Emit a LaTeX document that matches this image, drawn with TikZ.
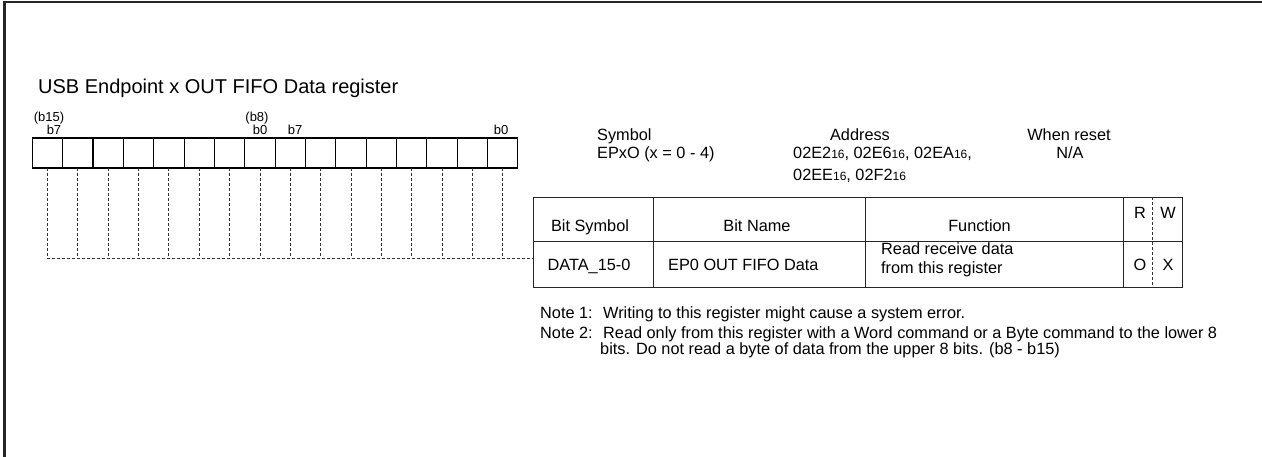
\documentclass[tikz,border=0pt]{standalone}
\usepackage{fontspec}
\setmainfont{Liberation Sans}
\newcommand{\hexsub}[1]{#1{\fontsize{12}{12}\selectfont 16}}
\tikzset{
  bitcell/.style={draw, line width=1.1pt, minimum width=30.35pt, minimum height=30pt, inner sep=0pt, outer sep=0pt},
  guide/.style={line width=0.8pt, dash pattern=on 3pt off 2pt, black!80},
  txt/.style={font=\fontsize{16.3}{19.5}\selectfont, inner sep=0pt},
  bitlbl/.style={font=\fontsize{13}{14}\selectfont, inner sep=0pt, anchor=base},
  rule/.style={line width=0.9pt, black!85},
}
\begin{document}
\begin{tikzpicture}[x=1pt, y=-1pt]
  \useasboundingbox (0,0) rectangle (1262,457);
  % frame
  \draw[line width=2pt, black!85] (3,2.5) -- (1262,2.5);
  \draw[line width=3pt, black!85] (4.5,1.5) -- (4.5,457);
  \node[txt, font=\fontsize{20}{24}\selectfont, anchor=base west] (title) at (38,94) {USB Endpoint x OUT FIFO Data register};
  % bit cells
  \foreach \i in {0,...,15}
    \node[bitcell] (c\i) at ({32.3+30.35*(\i+0.5)},153) {};
  \node[bitlbl] (lb15) at (49,122) {(b15)};
  \node[bitlbl] (lhi7) at (54,135) {b7};
  \node[bitlbl] (lb8) at (257,122) {(b8)};
  \node[bitlbl] (lhi0) at (260,135) {b0};
  \node[bitlbl] (llo7) at (295,135) {b7};
  \node[bitlbl] (llo0) at (501,135) {b0};
  % guide lines to the table
  \coordinate (tabw) at (533,258);
  \foreach \i in {0,...,15}
    \draw[guide] (c\i.south) -- (c\i.south |- tabw);
  \draw[guide] (c0.south |- tabw) -- (tabw);
  % symbol, address, reset
  \node[txt, anchor=base west] (sym) at (597,141) {Symbol};
  \node[txt, anchor=base west] (symval) at (597,159) {EPxO (x = 0 - 4)};
  \node[txt, anchor=base] (addr) at (860,141) {Address};
  \node[txt, anchor=base west] (addr1) at (793,159) {\hexsub{02E2}, \hexsub{02E6}, \hexsub{02EA},};
  \node[txt, anchor=base west] (addr2) at (793,181) {\hexsub{02EE}, \hexsub{02F2}};
  \node[txt, anchor=base] (rst) at (1069,141) {When reset};
  \node[txt, anchor=base] (rstval) at (1070,159) {N/A};
  % table
  \draw[rule] (533,197) rectangle (1182,287);
  \draw[rule] (533,241) -- (1182,241);
  \foreach \x in {653,865,1123}
    \draw[rule] (\x,197) -- (\x,287);
  \draw[guide] (1152,197) -- (1152,287);
  \node[txt, anchor=base] (hsym) at (590,232) {Bit Symbol};
  \node[txt, anchor=base] (hname) at (757,232) {Bit Name};
  \node[txt, anchor=base] (hfunc) at (979.5,232) {Function};
  \node[txt, anchor=base] (hr) at (1140,219) {R};
  \node[txt, anchor=base] (hw) at (1168,219) {W};
  \node[txt, anchor=base] (dsym) at (589,271) {DATA\_15-0};
  \node[txt, anchor=base west] (dname) at (668,271) {EP0 OUT FIFO Data};
  \node[txt, anchor=base west] (dfunc1) at (881,255) {Read receive data};
  \node[txt, anchor=base west] (dfunc2) at (881,274) {from this register};
  \node[txt, anchor=base] (dr) at (1140,271) {O};
  \node[txt, anchor=base] (dw) at (1168,271) {X};
  % notes
  \node[txt, anchor=base west] (note1) at (540,319) {Note 1:};
  \node[txt, anchor=base west] (note1t) at (603,319) {Writing to this register might cause a system error.};
  \node[txt, anchor=base west] (note2) at (540,338) {Note 2:};
  \node[txt, anchor=base west] (note2t) at (603,338) {Read only from this register with a Word command or a Byte command to the lower 8};
  \node[txt, anchor=base west] (note2u) at (600,354) {bits. Do not read a byte of data from the upper 8 bits. (b8 - b15)};
\end{tikzpicture}
\end{document}
